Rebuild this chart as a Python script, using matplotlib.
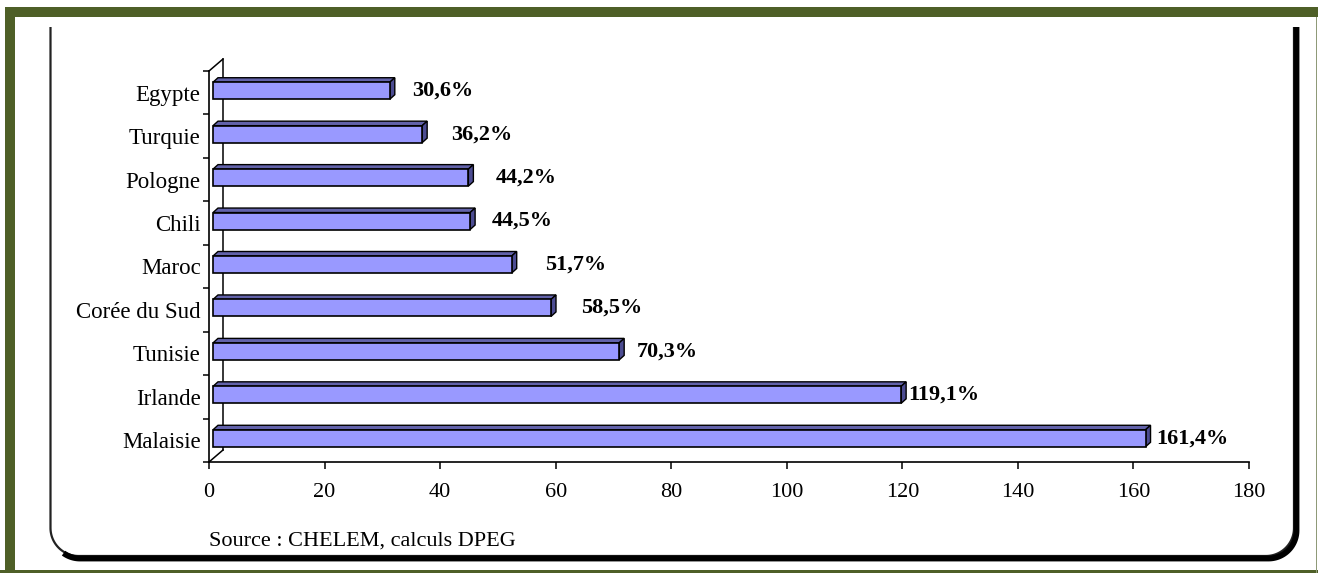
import numpy as np
import matplotlib
matplotlib.use("Agg")
import matplotlib.pyplot as plt
from matplotlib.patches import Polygon, Rectangle
from matplotlib.lines import Line2D

# ---------------- data ----------------
categories = ["Egypte", "Turquie", "Pologne", "Chili", "Maroc",
              "Corée du Sud", "Tunisie", "Irlande", "Malaisie"]
values = [30.6, 36.2, 44.2, 44.5, 51.7, 58.5, 70.3, 119.1, 161.4]
value_labels = ["30,6%", "36,2%", "44,2%", "44,5%", "51,7%",
                "58,5%", "70,3%", "119,1%", "161,4%"]
x_ticks = [0, 20, 40, 60, 80, 100, 120, 140, 160, 180]
source_text = "Source : CHELEM, calculs DPEG"

# ---------------- style ----------------
label_gap_px = [17, 24, 22, 17, 28, 25, 13, 2, 6]
W, H, DPI = 1318, 573, 100
FONT = "Liberation Serif"
GREEN = "#4e5f27"
FRONT = "#9999ff"
TOPC = "#6262aa"
SIDEC = "#4c4c92"

fig = plt.figure(figsize=(W / DPI, H / DPI), dpi=DPI)
fig.patch.set_facecolor("white")

# background / decoration axes in pixel coordinates (origin bottom-left)
bg = fig.add_axes([0, 0, 1, 1], zorder=0)
bg.set_xlim(0, W)
bg.set_ylim(0, H)
bg.axis("off")

def py(y_from_top):
    return H - y_from_top

# green picture frame
bg.add_patch(Rectangle((5, py(17)), W - 5, 10, facecolor=GREEN, edgecolor="none"))
bg.add_patch(Rectangle((5, 0), 10, py(7), facecolor=GREEN, edgecolor="none"))
bg.add_patch(Rectangle((0, 0), W, 3, facecolor=GREEN, edgecolor="none"))
bg.add_patch(Rectangle((W - 2.5, 0), 1.5, py(17), facecolor="#8f9a78", edgecolor="none"))

# rounded chart frame (open at the top)
def arc(cx, cy, r, a0, a1, n=30):
    t = np.linspace(a0, a1, n)
    return list(zip(cx + r * np.cos(t), cy + r * np.sin(t)))

def frame_pts(xl, xr, yb, ytop, r, a_start=np.pi):
    pts = []
    if a_start == np.pi:
        pts.append((xl, py(ytop)))
    pts += arc(xl + r, py(yb) + r, r, a_start, 1.5 * np.pi)
    pts += arc(xr - r, py(yb) + r, r, 1.5 * np.pi, 2 * np.pi)
    pts.append((xr, py(ytop)))
    return np.array(pts)

fp = frame_pts(50.5, 1294, 556, 27, 28)
bg.plot(fp[:, 0], fp[:, 1], color="#222222", lw=1.6, solid_capstyle="butt")
sp = frame_pts(52.0, 1296.5, 558.5, 27, 28, a_start=1.3 * np.pi)
bg.plot(sp[:, 0], sp[:, 1], color="black", lw=4.2, solid_capstyle="butt")

# ---------------- main chart axes ----------------
ax_left, ax_right, ax_top, ax_bottom = 209, 1249, 71, 462
ax = fig.add_axes([ax_left / W, (H - ax_bottom) / H,
                   (ax_right - ax_left) / W, (ax_bottom - ax_top) / H], zorder=2)
ax.patch.set_alpha(0)

n = len(categories)
ypos = np.arange(n)
ax.set_xlim(0, 180)
ax.set_ylim(n - 0.5, -0.5)

px_x = (ax_right - ax_left) / 180.0
px_y = (ax_bottom - ax_top) / n

# 3D depth in pixels -> data units
dx_px, dy_px = 5.0, 4.5
ddx, ddy = dx_px / px_x, dy_px / px_y
start_off = 4.0 / px_x
bar_h = 17.0 / px_y
y_shift = -2.0 / px_y

for i, (v, lab) in enumerate(zip(values, value_labels)):
    yc = ypos[i] + y_shift
    yt, yb = yc - bar_h / 2, yc + bar_h / 2
    x0, x1 = start_off, start_off + v
    top = Polygon([(x0, yt), (x1, yt), (x1 + ddx, yt - ddy), (x0 + ddx, yt - ddy)],
                  closed=True, facecolor=TOPC, edgecolor="black", lw=1.0, zorder=3)
    side = Polygon([(x1, yt), (x1, yb), (x1 + ddx, yb - ddy), (x1 + ddx, yt - ddy)],
                   closed=True, facecolor=SIDEC, edgecolor="black", lw=1.0, zorder=3)
    ax.add_patch(top)
    ax.add_patch(side)
    ax.text(x1 + ddx + label_gap_px[i] / px_x, yc, lab, ha="left", va="center",
            fontsize=16, fontweight="bold", family=FONT, color="black", zorder=5)

ax.barh(ypos + y_shift, values, height=bar_h, left=start_off, color=FRONT,
        edgecolor="black", linewidth=1.2, zorder=4)

# spines
for s in ["top", "right"]:
    ax.spines[s].set_visible(False)
for s in ["left", "bottom"]:
    ax.spines[s].set_linewidth(1.2)
    ax.spines[s].set_color("black")

ax.set_xticks(x_ticks)
ax.set_xticklabels([str(t) for t in x_ticks], family=FONT, fontsize=16)
ax.tick_params(axis="x", direction="out", length=5, width=1.1, pad=10, colors="black")

ax.set_yticks(ypos)
ax.set_yticklabels(categories, family=FONT, fontsize=16.5)
ax.tick_params(axis="y", which="major", length=0, pad=6)
ax.set_yticks(np.arange(n + 1) - 0.5, minor=True)
ax.tick_params(axis="y", which="minor", direction="out", length=4.5, width=1.1)

# back wall edge (depth lines)
wall_dx, wall_dy = 14, 12
bg.add_line(Line2D([ax_left, ax_left + wall_dx], [py(ax_top), py(ax_top) + wall_dy],
                   color="black", lw=1.1))
bg.add_line(Line2D([ax_left + wall_dx, ax_left + wall_dx],
                   [py(ax_top) + wall_dy, py(ax_bottom) + wall_dy], color="black", lw=1.1))
bg.add_line(Line2D([ax_left, ax_left + wall_dx], [py(ax_bottom), py(ax_bottom) + wall_dy],
                   color="black", lw=1.1))

# source
fig.text(209 / W, 1 - 541 / H, source_text, family=FONT, fontsize=16,
         ha="left", va="center", color="black")

fig.savefig("out.png", dpi=DPI, facecolor="white")
